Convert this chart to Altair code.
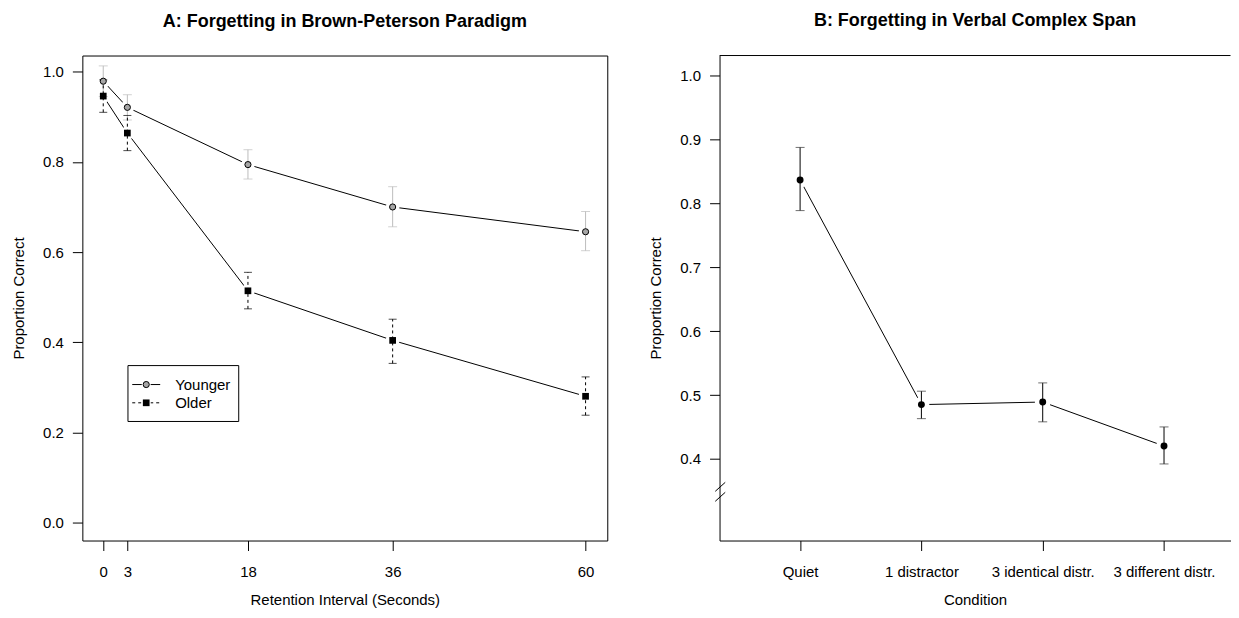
import json
import altair as alt
import pandas as pd

# ---------------- data ----------------
intervals = [0, 3, 18, 36, 60]
groups = ["Younger", "Older"]
young_mean = [0.979, 0.921, 0.794, 0.700, 0.645]
young_lo = [0.945, 0.893, 0.762, 0.656, 0.603]
young_hi = [1.013, 0.949, 0.827, 0.745, 0.690]
old_mean = [0.946, 0.864, 0.514, 0.404, 0.280]
old_lo = [0.910, 0.825, 0.474, 0.353, 0.238]
old_hi = [0.982, 0.903, 0.555, 0.451, 0.323]

conditions = ["Quiet", "1 distractor", "3 identical distr.", "3 different distr."]
cond_mean = [0.837, 0.485, 0.489, 0.420]
cond_lo = [0.789, 0.463, 0.458, 0.392]
cond_hi = [0.888, 0.506, 0.519, 0.450]

ticksA_y = [0.0, 0.2, 0.4, 0.6, 0.8, 1.0]
ticksB_y = [0.4, 0.5, 0.6, 0.7, 0.8, 0.9, 1.0]

FONT = "Liberation Sans"
WA, HA = 526, 486
WB, HB = 512, 486

rows = []
for g, m, lo, hi in ((groups[0], young_mean, young_lo, young_hi),
                     (groups[1], old_mean, old_lo, old_hi)):
    for t, a, b, c in zip(intervals, m, lo, hi):
        rows.append({"interval": t, "group": g, "mean": a, "lo": b, "hi": c})
dfA = pd.DataFrame(rows)

dfB = pd.DataFrame({"pos": list(range(1, len(conditions) + 1)), "cond": conditions,
                    "mean": cond_mean, "lo": cond_lo, "hi": cond_hi})
one = pd.DataFrame({"k": [0]})

# ---------------- panel A ----------------
axA_x = alt.Axis(values=intervals, title="Retention Interval (Seconds)", domain=False,
                 tickSize=10, labelPadding=14, titleY=59, titleBaseline="middle",
                 labelFlush=False, labelOverlap=False)
axA_y = alt.Axis(values=ticksA_y, format=".1f", title="Proportion Correct", domain=False,
                 tickSize=10, labelPadding=9, titleX=-64, titleBaseline="middle",
                 labelFlush=False, labelOverlap=False)
sxA = alt.Scale(domain=[-2.6, 62.7], nice=False, zero=False)
syA = alt.Scale(domain=[-0.04, 1.036], nice=False, zero=False)


def XA(field="interval"):
    return alt.X(f"{field}:Q", scale=sxA, axis=axA_x)


def YA(field):
    return alt.Y(f"{field}:Q", scale=syA, axis=axA_y)


baseA = alt.Chart(dfA)
young = baseA.transform_filter(alt.datum.group == "Younger")
old = baseA.transform_filter(alt.datum.group == "Older")

linesA = baseA.mark_line(color="black", strokeWidth=1).encode(
    x=XA(), y=YA("mean"), detail="group:N")
haloA = baseA.mark_point(shape="circle", filled=True, color="white", size=190,
                         opacity=1).encode(x=XA(), y=YA("mean"))
errYoung = young.mark_rule(color="#bdbdbd", strokeWidth=1).encode(
    x=XA(), y=YA("lo"), y2="hi:Q")
capYoung = young.transform_fold(["lo", "hi"], as_=["end", "v"]).mark_tick(
    orient="horizontal", size=9, thickness=1, color="#bdbdbd").encode(x=XA(), y=YA("v"))
errOld = old.mark_rule(color="black", strokeWidth=1, strokeDash=[3, 3]).encode(
    x=XA(), y=YA("lo"), y2="hi:Q")
capOld = old.transform_fold(["lo", "hi"], as_=["end", "v"]).mark_tick(
    orient="horizontal", size=8, thickness=1, color="black").encode(x=XA(), y=YA("v"))
ptYoung = young.mark_point(shape="circle", fill="#a6a6a6", stroke="black", fillOpacity=1,
                           strokeWidth=1, size=38, opacity=1).encode(x=XA(), y=YA("mean"))
ptOld = old.mark_square(color="black", size=45, opacity=1).encode(x=XA(), y=YA("mean"))

# legend (panel A)
legBox = alt.Chart(one).mark_rect(fill="white", stroke="black", strokeWidth=1).encode(
    x=alt.value(45.7), x2=alt.value(156.7), y=alt.value(310.7), y2=alt.value(366.7))
legLineY = alt.Chart(one).mark_rule(color="black", strokeWidth=1).encode(
    x=alt.value(50), x2=alt.value(78), y=alt.value(329.7))
legLineO = alt.Chart(one).mark_rule(color="black", strokeWidth=1, strokeDash=[3, 3]).encode(
    x=alt.value(50), x2=alt.value(78), y=alt.value(348))
legHaloY = alt.Chart(one).mark_point(shape="circle", filled=True, color="white", size=80,
                                     opacity=1).encode(x=alt.value(64), y=alt.value(329.7))
legHaloO = alt.Chart(one).mark_square(color="white", size=80, opacity=1).encode(
    x=alt.value(64), y=alt.value(348))
legPtY = alt.Chart(one).mark_point(shape="circle", fill="#a6a6a6", stroke="black",
                                   fillOpacity=1, strokeWidth=1, size=38, opacity=1).encode(
    x=alt.value(64), y=alt.value(329.7))
legPtO = alt.Chart(one).mark_square(color="black", size=45, opacity=1).encode(
    x=alt.value(64), y=alt.value(348))
legTxtY = alt.Chart(one).mark_text(text=groups[0], font=FONT, fontSize=15, align="left",
                                   baseline="middle", color="black").encode(
    x=alt.value(93), y=alt.value(329.7))
legTxtO = alt.Chart(one).mark_text(text=groups[1], font=FONT, fontSize=15, align="left",
                                   baseline="middle", color="black").encode(
    x=alt.value(93), y=alt.value(348))

panelA = alt.layer(
    linesA, haloA, errYoung, capYoung, errOld, capOld, ptYoung, ptOld,
    legBox, legLineY, legLineO, legHaloY, legHaloO, legPtY, legPtO, legTxtY, legTxtO
).properties(
    width=WA, height=HA,
    title=alt.TitleParams(text="A: Forgetting in Brown-Peterson Paradigm", font=FONT,
                          fontSize=18, fontWeight="bold", color="black", offset=11,
                          baseline="alphabetic", anchor="middle", frame="group"),
    view=alt.ViewBackground(stroke="black", strokeWidth=1),
)

# ---------------- panel B ----------------
label_expr = json.dumps(conditions) + "[datum.value - 1]"
axB_x = alt.Axis(values=list(dfB["pos"]), labelExpr=label_expr, title="Condition",
                 domain=True, tickSize=10, labelPadding=14, titleY=59,
                 titleBaseline="middle", labelFlush=False, labelOverlap=False)
axB_y = alt.Axis(values=ticksB_y, format=".1f", title="Proportion Correct", domain=True,
                 tickSize=10, labelPadding=9, titleX=-64, titleBaseline="middle",
                 labelFlush=False, labelOverlap=False)
sxB = alt.Scale(domain=[0.336, 4.548], nice=False, zero=False)
syB = alt.Scale(domain=[0.272, 1.032], nice=False, zero=False)


def XB():
    return alt.X("pos:Q", scale=sxB, axis=axB_x)


def YB(field):
    return alt.Y(f"{field}:Q", scale=syB, axis=axB_y)


baseB = alt.Chart(dfB)
linesB = baseB.mark_line(color="black", strokeWidth=1).encode(x=XB(), y=YB("mean"))
haloB = baseB.mark_point(shape="circle", filled=True, color="white", size=250,
                         opacity=1).encode(x=XB(), y=YB("mean"))
errB = baseB.mark_rule(color="black", strokeWidth=1).encode(x=XB(), y=YB("lo"), y2="hi:Q")
capB = baseB.transform_fold(["lo", "hi"], as_=["end", "v"]).mark_tick(
    orient="horizontal", size=9, thickness=1, color="#333333").encode(x=XB(), y=YB("v"))
ptB = baseB.mark_circle(color="black", size=48, opacity=1).encode(x=XB(), y=YB("mean"))

topLine = alt.Chart(one).mark_rule(color="black", strokeWidth=1).encode(
    x=alt.value(0), x2=alt.value(WB), y=alt.value(0))
brk1 = alt.Chart(one).mark_rule(color="black", strokeWidth=1).encode(
    x=alt.value(-4.3), x2=alt.value(5.7), y=alt.value(436.7), y2=alt.value(427.7))
brk2 = alt.Chart(one).mark_rule(color="black", strokeWidth=1).encode(
    x=alt.value(-4.3), x2=alt.value(5.7), y=alt.value(446.7), y2=alt.value(437.7))

panelB = alt.layer(
    linesB, haloB, errB, capB, ptB, topLine, brk1, brk2
).properties(
    width=WB, height=HB,
    title=alt.TitleParams(text="B: Forgetting in Verbal Complex Span", font=FONT,
                          fontSize=18, fontWeight="bold", color="black", offset=11,
                          baseline="alphabetic", anchor="middle", frame="group"),
    view=alt.ViewBackground(stroke="transparent", strokeWidth=0),
)

chart = alt.hconcat(panelA, panelB, spacing=40.5).properties(
    padding={"left": 2.5, "top": 3, "right": 0, "bottom": 0},
    background="white",
).configure_axis(
    labelFont=FONT, labelFontSize=15, labelColor="black",
    titleFont=FONT, titleFontSize=15, titleFontWeight="normal", titleColor="black",
    tickColor="black", domainColor="black", tickWidth=1, domainWidth=1, grid=False,
)

chart.save("out.html", embed_options={"renderer": "svg", "actions": False})
